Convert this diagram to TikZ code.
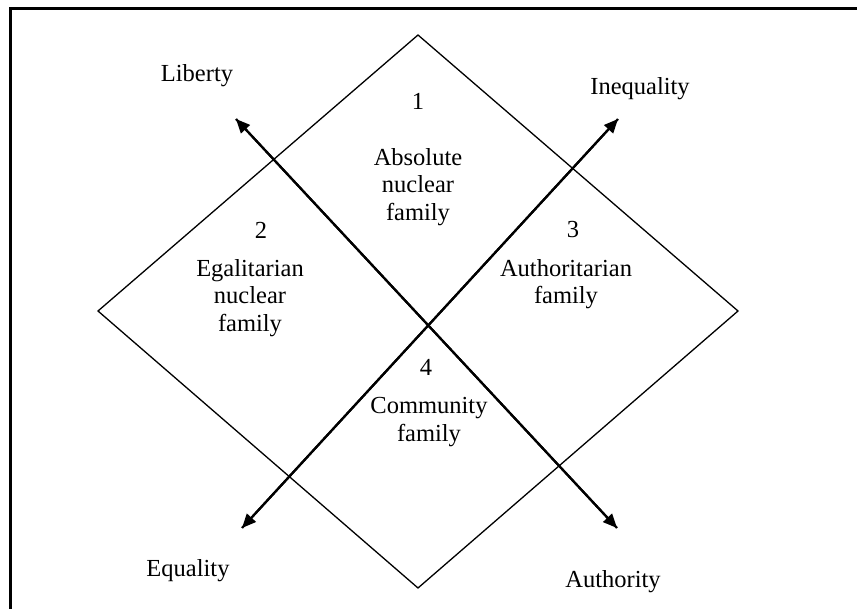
\documentclass[tikz,border=0pt]{standalone}
\usepackage{fontspec}
\setmainfont{Liberation Serif}
\usetikzlibrary{arrows.meta}
\begin{document}
\begin{tikzpicture}[x=1pt,y=-1pt,
  lbl/.style={font=\fontsize{24.5}{27.5}\selectfont, align=center, inner sep=0pt},
  axis/.style={line width=2.2pt, -{Triangle[length=14pt,width=12pt]}},
  edge/.style={line width=1.3pt, line join=miter}]
\useasboundingbox (0,0) rectangle (857,609);
\draw[line width=3pt] (10,609) -- (10,9) -- (857,9);
% diamond
\coordinate (T) at (418,35);
\coordinate (R) at (738,311);
\coordinate (B) at (418,588);
\coordinate (L) at (98,311);
\draw[edge] (T) -- (R) -- (B) -- (L) -- cycle;
% axes
\coordinate (lib) at (236,119);
\coordinate (aut) at (617,528);
\coordinate (ineq) at (618,119);
\coordinate (eq) at (242,528);
\draw[axis] (aut) -- (lib);
\draw[axis] (lib) -- (aut);
\draw[axis] (eq) -- (ineq);
\draw[axis] (ineq) -- (eq);
% labels
\node[lbl] (tlib) at (197,76) {Liberty};
\node[lbl] (tineq) at (640,89) {Inequality};
\node[lbl] (teq) at (188,571) {Equality};
\node[lbl] (taut) at (613,582) {Authority};
\node[lbl] (n1) at (418,101) {1};
\node[lbl] (n2) at (261,230) {2};
\node[lbl] (n3) at (573,230) {3};
\node[lbl] (n4) at (426,367) {4};
\node[lbl] (f1) at (418,187) {Absolute\\nuclear\\family};
\node[lbl] (f2) at (250,298) {Egalitarian\\nuclear\\family};
\node[lbl] (f3) at (566,284) {Authoritarian\\family};
\node[lbl] (f4) at (429,422) {Community\\family};
\end{tikzpicture}
\end{document}
